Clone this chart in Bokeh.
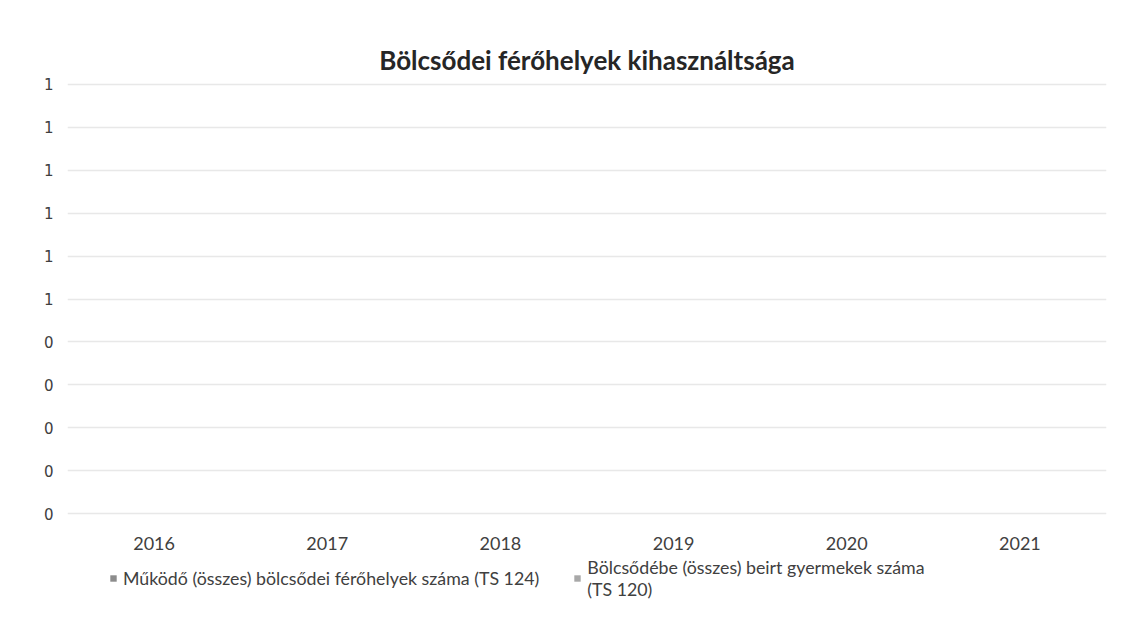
from bokeh.plotting import figure
from bokeh.layouts import column
from bokeh.models import FactorRange, FixedTicker, Legend, LegendItem, ColumnDataSource
from bokeh.transform import dodge
from bokeh.embed import file_html
from bokeh.resources import INLINE

# ---- data ----
years = ["2016", "2017", "2018", "2019", "2020", "2021"]
ferohelyek = [0, 0, 0, 0, 0, 0]      # Működő (összes) bölcsődei férőhelyek száma (TS 124)
beirt = [0, 0, 0, 0, 0, 0]           # Bölcsődébe (összes) beirt gyermekek száma (TS 120)
y_ticks = [0, 0.1, 0.2, 0.3, 0.4, 0.5, 0.6, 0.7, 0.8, 0.9, 1.0]
y_tick_labels = ["0", "0", "0", "0", "0", "1", "1", "1", "1", "1", "1"]
chart_title = "Bölcsődei férőhelyek kihasználtsága"
series_1 = "Működő (összes) bölcsődei férőhelyek száma (TS 124)"
series_2 = "Bölcsődébe (összes) beirt gyermekek száma\n(TS 120)"
colors = ["#8c8c8c", "#a8a8a8"]

src = ColumnDataSource(data=dict(years=years, ferohelyek=ferohelyek, beirt=beirt))

W = 1109
p = figure(width=W, height=552, x_range=FactorRange(*years), y_range=(-0.004, 1.004),
           output_backend="svg", toolbar_location=None,
           min_border_left=67, min_border_right=3, min_border_top=82, min_border_bottom=0)

p.title.text = chart_title
p.title.align = "center"
p.title.text_font = "Lato"
p.title.text_font_style = "bold"
p.title.text_font_size = "26px"
p.title.text_color = "#262626"
p.title.standoff = 14

r1 = p.vbar(x=dodge("years", -0.15, range=p.x_range), top="ferohelyek", width=0.28,
            source=src, fill_color=colors[0], line_color=None)
r2 = p.vbar(x=dodge("years", 0.15, range=p.x_range), top="beirt", width=0.28,
            source=src, fill_color=colors[1], line_color=None)

p.outline_line_color = None
p.xgrid.grid_line_color = None
p.ygrid.grid_line_color = "#e8e8e8"
p.ygrid.grid_line_width = 1.5

p.yaxis.ticker = FixedTicker(ticks=y_ticks)
p.yaxis.major_label_overrides = {t: l for t, l in zip(y_ticks, y_tick_labels)}
p.yaxis.axis_line_color = None
p.yaxis.major_tick_line_color = None
p.yaxis.minor_tick_line_color = None
p.yaxis.major_label_standoff = 8
p.yaxis.major_label_text_font = "DejaVu Sans"
p.yaxis.major_label_text_font_size = "15px"
p.yaxis.major_label_text_color = "#404040"

p.xaxis.axis_line_color = None
p.xaxis.major_tick_line_color = None
p.xaxis.minor_tick_line_color = None
p.xaxis.major_label_standoff = 15
p.xaxis.major_label_text_font = "Lato"
p.xaxis.major_label_text_font_size = "18px"
p.xaxis.major_label_text_color = "#404040"

# ---- legend strip below the chart ----
lp = figure(width=W, height=68, x_range=FactorRange(*years), y_range=(0, 1),
            output_backend="svg", toolbar_location=None,
            min_border_left=0, min_border_right=0, min_border_top=0, min_border_bottom=0)
lp.axis.visible = False
lp.grid.grid_line_color = None
lp.outline_line_color = None
l1 = lp.vbar(x=dodge("years", -0.15, range=lp.x_range), top="ferohelyek", width=0.28,
             source=src, fill_color=colors[0], line_color=None)
l2 = lp.vbar(x=dodge("years", 0.15, range=lp.x_range), top="beirt", width=0.28,
             source=src, fill_color=colors[1], line_color=None)

lg = Legend(items=[LegendItem(label=series_1, renderers=[l1]),
                   LegendItem(label=series_2, renderers=[l2])],
            orientation="horizontal", location=(42, 20))
lg.border_line_color = None
lg.background_fill_alpha = 0
lg.padding = 0
lg.margin = 0
lg.spacing = 34
lg.glyph_width = 8
lg.glyph_height = 8
lg.label_standoff = 6
lg.label_text_font = "Lato"
lg.label_text_font_size = "17.8px"
lg.label_text_color = "#404040"
lp.add_layout(lg, "center")

layout = column(p, lp, spacing=0)
open("out.html", "w").write(file_html(layout, INLINE))
